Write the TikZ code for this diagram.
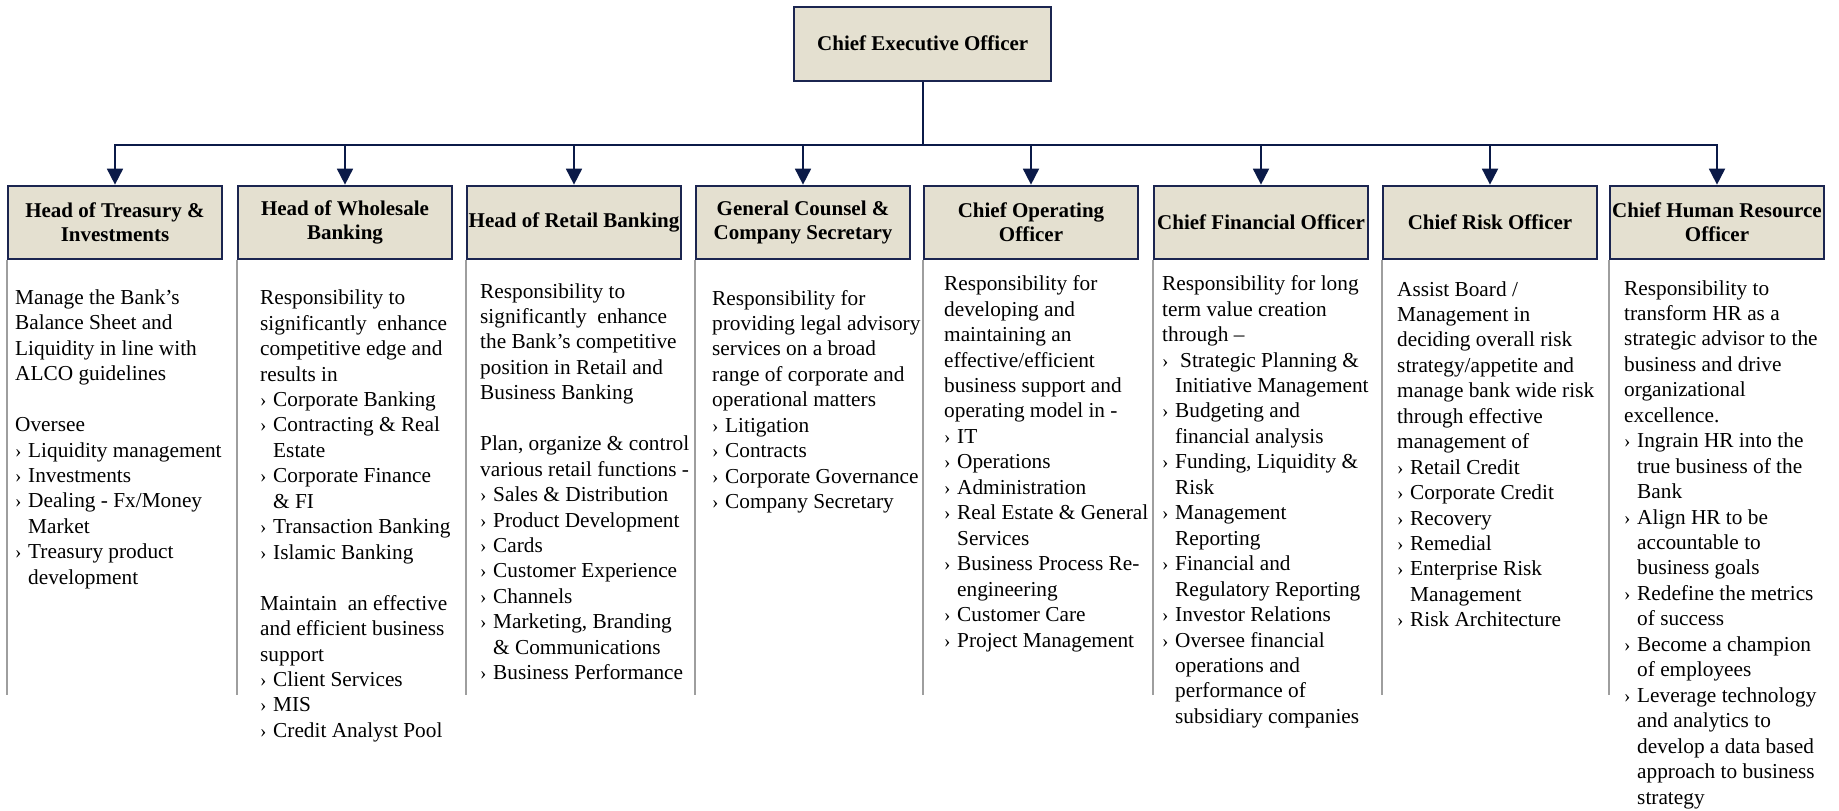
\documentclass[tikz,border=0pt]{standalone}
\usepackage{fontspec}
\setmainfont{Liberation Serif}
\usetikzlibrary{arrows.meta}

\definecolor{boxfill}{HTML}{E4E0D0}
\definecolor{navy}{HTML}{1B2550}
\definecolor{linkcol}{HTML}{0B1A48}
\definecolor{rulegray}{HTML}{9E9E9E}

% bullet marker and hanging indent for wrapped bullet lines
\newcommand\bu{\makebox[13pt][l]{\fontsize{19}{19}\selectfont ›}}
\newcommand\ind{\hspace*{13pt}}
% column body text, first baseline on the node's base anchor
\newcommand\coltext[1]{\parbox[t]{250pt}{\raggedright\fontsize{21.3}{25.45}\selectfont #1}}

\tikzset{
  headbox/.style={draw=navy, line width=2pt, fill=boxfill,
    minimum width=214pt, minimum height=73.3pt, inner sep=0pt,
    align=center, font=\fontsize{21}{23.4}\selectfont\bfseries},
  link/.style={draw=linkcol, line width=1.8pt},
  arrowlink/.style={link, -{Triangle[width=16pt,length=16pt]}},
  sidebar/.style={draw=rulegray, line width=1.6pt},
  coltxt/.style={anchor=base west, inner sep=0pt}
}

\begin{document}
\begin{tikzpicture}[x=1pt,y=-1pt]
\useasboundingbox (0,0) rectangle (1839,811);

% top of the hierarchy
\node[headbox, minimum width=256.7pt, minimum height=74pt] (ceo) at (922.7,43.7) {Chief Executive Officer};

% direct reports
\node[headbox] (h1) at (115,222.3)  {Head of Treasury \&\\Investments};
\node[headbox] (h2) at (345,222.3)  {Head of Wholesale\\Banking};
\node[headbox] (h3) at (574,222.3)  {Head of Retail Banking};
\node[headbox] (h4) at (803,222.3)  {General Counsel \&\\Company Secretary};
\node[headbox] (h5) at (1031,222.3) {Chief Operating\\Officer};
\node[headbox] (h6) at (1261,222.3) {Chief Financial Officer};
\node[headbox] (h7) at (1490,222.3) {Chief Risk Officer};
\node[headbox] (h8) at (1717,222.3) {Chief Human Resource\\Officer};

% reporting lines
\draw[link] (ceo.south) -- ++(0,63) coordinate (bus);
\draw[link, line cap=rect] (bus -| h1.north) -- (bus -| h8.north);
\foreach \i in {1,...,8}
  \draw[arrowlink] (bus -| h\i.north) -- (h\i.north);

% column separators
\foreach \i in {1,...,8}
  \draw[sidebar] (h\i.south west) -- (h\i.south west |- 0,695);

% responsibilities
\node[coltxt] (t1) at (15,304.3) {\coltext{%
Manage the Bank’s\\
Balance Sheet and\\
Liquidity in line with\\
ALCO guidelines\\
\mbox{}\\
Oversee\\
\bu Liquidity management\\
\bu Investments\\
\bu Dealing - Fx/Money\\
\ind Market\\
\bu Treasury product\\
\ind development}};

\node[coltxt] (t2) at (260,304.7) {\coltext{%
Responsibility to\\
significantly \ enhance\\
competitive edge and\\
results in\\
\bu Corporate Banking\\
\bu Contracting \& Real\\
\ind Estate\\
\bu Corporate Finance\\
\ind \& FI\\
\bu Transaction Banking\\
\bu Islamic Banking\\
\mbox{}\\
Maintain \ an effective\\
and efficient business\\
support\\
\bu Client Services\\
\bu MIS\\
\bu Credit Analyst Pool}};

\node[coltxt] (t3) at (480,298) {\coltext{%
Responsibility to\\
significantly \ enhance\\
the Bank’s competitive\\
position in Retail and\\
Business Banking\\
\mbox{}\\
Plan, organize \& control\\
various retail functions -\\
\bu Sales \& Distribution\\
\bu Product Development\\
\bu Cards\\
\bu Customer Experience\\
\bu Channels\\
\bu Marketing, Branding\\
\ind \& Communications\\
\bu Business Performance}};

\node[coltxt] (t4) at (712,305) {\coltext{%
Responsibility for\\
providing legal advisory\\
services on a broad\\
range of corporate and\\
operational matters\\
\bu Litigation\\
\bu Contracts\\
\bu Corporate Governance\\
\bu Company Secretary}};

\node[coltxt] (t5) at (944,290.7) {\coltext{%
Responsibility for\\
developing and\\
maintaining an\\
effective/efficient\\
business support and\\
operating model in -\\
\bu IT\\
\bu Operations\\
\bu Administration\\
\bu Real Estate \& General\\
\ind Services\\
\bu Business Process Re-\\
\ind engineering\\
\bu Customer Care\\
\bu Project Management}};

\node[coltxt] (t6) at (1162,290.7) {\coltext{%
Responsibility for long\\
term value creation\\
through –\\
\bu\hspace{5pt}Strategic Planning \&\\
\ind Initiative Management\\
\bu Budgeting and\\
\ind financial analysis\\
\bu Funding, Liquidity \&\\
\ind Risk\\
\bu Management\\
\ind Reporting\\
\bu Financial and\\
\ind Regulatory Reporting\\
\bu Investor Relations\\
\bu Oversee financial\\
\ind operations and\\
\ind performance of\\
\ind subsidiary companies}};

\node[coltxt] (t7) at (1397,296) {\coltext{%
Assist Board /\\
Management in\\
deciding overall risk\\
strategy/appetite and\\
manage bank wide risk\\
through effective\\
management of\\
\bu Retail Credit\\
\bu Corporate Credit\\
\bu Recovery\\
\bu Remedial\\
\bu Enterprise Risk\\
\ind Management\\
\bu Risk Architecture}};

\node[coltxt] (t8) at (1624,295) {\coltext{%
Responsibility to\\
transform HR as a\\
strategic advisor to the\\
business and drive\\
organizational\\
excellence.\\
\bu Ingrain HR into the\\
\ind true business of the\\
\ind Bank\\
\bu Align HR to be\\
\ind accountable to\\
\ind business goals\\
\bu Redefine the metrics\\
\ind of success\\
\bu Become a champion\\
\ind of employees\\
\bu Leverage technology\\
\ind and analytics to\\
\ind develop a data based\\
\ind approach to business\\
\ind strategy}};

\end{tikzpicture}
\end{document}
